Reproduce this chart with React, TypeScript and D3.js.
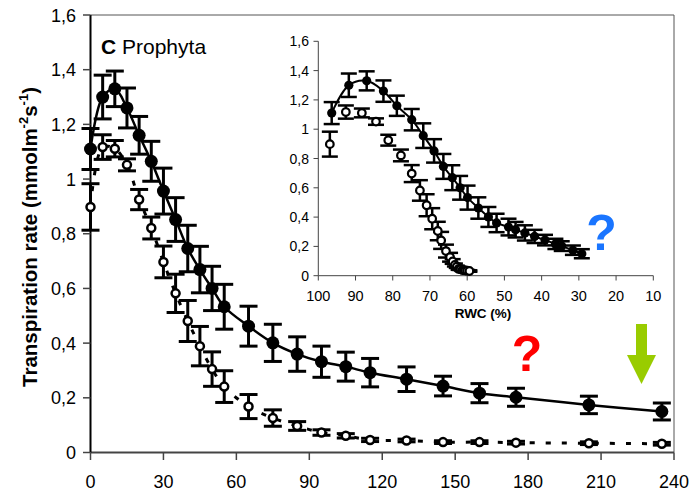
import React from "react";
import * as d3 from "d3";

// ---- data ----
const timeMin = [0, 5, 10, 15, 20, 25, 30, 35, 40, 45, 50, 55, 65, 75, 85, 95, 105, 115, 130, 145, 160, 175, 205, 235];
const filledRate = [1.11, 1.3, 1.33, 1.26, 1.16, 1.065, 0.956, 0.852, 0.746, 0.669, 0.6, 0.533, 0.462, 0.401, 0.36, 0.332, 0.314, 0.292, 0.268, 0.243, 0.217, 0.202, 0.174, 0.15];
const filledErr = [0.075, 0.08, 0.065, 0.073, 0.069, 0.073, 0.084, 0.08, 0.085, 0.085, 0.081, 0.082, 0.073, 0.068, 0.063, 0.057, 0.053, 0.052, 0.045, 0.036, 0.035, 0.033, 0.032, 0.031];
const openRate = [0.898, 1.117, 1.111, 1.052, 0.925, 0.821, 0.697, 0.582, 0.481, 0.389, 0.305, 0.241, 0.168, 0.126, 0.097, 0.073, 0.061, 0.046, 0.044, 0.038, 0.038, 0.036, 0.034, 0.032];
const openErr = [0.085, 0.045, 0.03, 0.022, 0.037, 0.04, 0.058, 0.07, 0.075, 0.072, 0.063, 0.058, 0.044, 0.03, 0.016, 0.01, 0.008, 0.006, 0.005, 0.005, 0.005, 0.005, 0.005, 0.005];
const filledRWC = [96.4, 91.8, 87, 82.5, 78.9, 74.9, 71.8, 68.9, 66.4, 64, 61.9, 59.9, 57, 54.3, 52.1, 48.9, 47, 44.5, 41.9, 39.1, 36.3, 34.6, 31.6, 29.2];
const openRWC = [96.9, 92.6, 88.3, 84.5, 81.2, 77.8, 74.9, 72.7, 70.9, 69.4, 67.9, 67, 65.7, 64.6, 63.9, 63.3, 62.8, 62.3, 61.8, 61.3, 60.9, 60.5, 60, 59.4];
const mainXTicks = [0, 30, 60, 90, 120, 150, 180, 210, 240];
const yTicks = [0, 0.2, 0.4, 0.6, 0.8, 1, 1.2, 1.4, 1.6];
const insetXTicks = [100, 90, 80, 70, 60, 50, 40, 30, 20, 10];
const panelLabel = "Prophyta";

const FONT = "'Liberation Sans', Arial, sans-serif";
const fmt = (v: number) => (Math.round(v * 10) / 10).toString().replace(".", ",");

export default function App() {
  const W = 690, H = 493;
  const x = d3.scaleLinear().domain([0, 240]).range([90.5, 674]);
  const y = d3.scaleLinear().domain([0, 1.6]).range([452.5, 15]);
  const xi = d3.scaleLinear().domain([100, 10]).range([318.3, 653.3]);
  const yi = d3.scaleLinear().domain([0, 1.6]).range([275.7, 41.3]);

  const filledLine = d3.line<number>().x((_, i) => x(timeMin[i])).y((d) => y(d)).curve(d3.curveCatmullRom.alpha(0.5));
  const openLine = d3.line<number>().x((_, i) => x(timeMin[i])).y((d) => y(d)).curve(d3.curveCatmullRom.alpha(0.5));
  const insetFilledLine = d3.line<number>().x((_, i) => xi(filledRWC[i])).y((d) => yi(d)).curve(d3.curveCatmullRom.alpha(0.5));

  const errBars = (xs: number[], vals: number[], errs: number[], sx: any, sy: any, cap: number, sw: number, key: string) =>
    vals.map((v, i) => {
      const cx = sx(xs[i]);
      const t = sy(v + errs[i]);
      const b = sy(v - errs[i]);
      return (
        <g key={key + i} stroke="#000" strokeWidth={sw}>
          <line x1={cx} x2={cx} y1={t} y2={b} />
          <line x1={cx - cap / 2} x2={cx + cap / 2} y1={t} y2={t} />
          <line x1={cx - cap / 2} x2={cx + cap / 2} y1={b} y2={b} />
        </g>
      );
    });

  return (
    <svg width={W} height={H} style={{ position: "absolute", left: 0, top: 0, background: "#fff" }} fontFamily={FONT}>
      <rect x={0} y={0} width={W} height={H} fill="#fff" />
      {/* main frame */}
      <line x1={90.5} x2={674} y1={15} y2={15} stroke="#555" strokeWidth={1} />
      <line x1={674} x2={674} y1={15} y2={452.5} stroke="#555" strokeWidth={1} />
      {/* main axes */}
      <line x1={90.5} x2={674} y1={452.5} y2={452.5} stroke="#444" strokeWidth={2} />
      <line x1={90.5} x2={90.5} y1={15} y2={452.5} stroke="#000" strokeWidth={2} />
      {yTicks.map((t) => (
        <g key={"yt" + t}>
          <line x1={83} x2={90.5} y1={y(t)} y2={y(t)} stroke="#444" strokeWidth={1.5} />
          <text x={76} y={y(t) + 6.5} fontSize={18} textAnchor="end" fill="#000">{fmt(t)}</text>
        </g>
      ))}
      {mainXTicks.map((t) => (
        <g key={"xt" + t}>
          <line x1={x(t)} x2={x(t)} y1={452.5} y2={460} stroke="#444" strokeWidth={1.5} />
          <text x={x(t)} y={488} fontSize={18} textAnchor="middle" fill="#000">{t}</text>
        </g>
      ))}
      <text transform="translate(37,237) rotate(-90)" fontSize={20.5} fontWeight="bold" textAnchor="middle" fill="#000">
        Transpiration rate (mmolm<tspan fontSize={13} dy={-9}>-2</tspan><tspan dy={9}>s</tspan><tspan fontSize={13} dy={-9}>-1</tspan><tspan dy={9}>)</tspan>
      </text>
      <text x={101} y={54} fontSize={21} fill="#000">
        <tspan fontWeight="bold">C</tspan> {panelLabel}
      </text>

      {/* main series */}
      <path d={openLine(openRate) || ""} fill="none" stroke="#000" strokeWidth={3} strokeDasharray="5 11" />
      <path d={filledLine(filledRate) || ""} fill="none" stroke="#000" strokeWidth={2.5} />
      {errBars(timeMin, filledRate, filledErr, x, y, 18, 3, "fe")}
      {errBars(timeMin, openRate, openErr, x, y, 18, 3, "oe")}
      {filledRate.map((v, i) => (
        <circle key={"fc" + i} cx={x(timeMin[i])} cy={y(v)} r={6.5} fill="#000" />
      ))}
      {openRate.map((v, i) => (
        <circle key={"oc" + i} cx={x(timeMin[i])} cy={y(v)} r={4} fill="#fff" stroke="#000" strokeWidth={2.5} />
      ))}

      {/* inset */}
      <line x1={318.3} x2={318.3} y1={41.3} y2={275.7} stroke="#444" strokeWidth={1} />
      <line x1={318.3} x2={653.3} y1={275.7} y2={275.7} stroke="#444" strokeWidth={1} />
      {yTicks.map((t) => (
        <g key={"iyt" + t}>
          <line x1={313.5} x2={318.3} y1={yi(t)} y2={yi(t)} stroke="#444" strokeWidth={1} />
          <text x={309} y={yi(t) + 5} fontSize={14} textAnchor="end" fill="#000">{fmt(t)}</text>
        </g>
      ))}
      {insetXTicks.map((t) => (
        <g key={"ixt" + t}>
          <line x1={xi(t)} x2={xi(t)} y1={275.7} y2={280.5} stroke="#444" strokeWidth={1} />
          <text x={xi(t)} y={301} fontSize={14.5} textAnchor="middle" fill="#000">{t}</text>
        </g>
      ))}
      <text x={483} y={318} fontSize={13.5} fontWeight="bold" textAnchor="middle" fill="#000">RWC (%)</text>
      <path d={insetFilledLine(filledRate) || ""} fill="none" stroke="#000" strokeWidth={2} />
      {errBars(filledRWC, filledRate, filledErr, xi, yi, 16, 2.5, "ife")}
      {errBars(openRWC, openRate, openErr, xi, yi, 16, 2.5, "ioe")}
      {filledRate.map((v, i) => (
        <circle key={"ifc" + i} cx={xi(filledRWC[i])} cy={yi(v)} r={4.6} fill="#000" />
      ))}
      {openRate.map((v, i) => (
        <circle key={"ioc" + i} cx={xi(openRWC[i])} cy={yi(v)} r={3.8} fill="#fff" stroke="#000" strokeWidth={2.2} />
      ))}

      {/* annotations */}
      <text x={601.5} y={250} fontSize={50} fontWeight="bold" textAnchor="middle" fill="#1a75ff">?</text>
      <text x={527} y={371} fontSize={50} fontWeight="bold" textAnchor="middle" fill="#ff0000">?</text>
      <polygon points="636,324 647,324 647,355 656,355 641.5,384 627,355 636,355" fill="#99cc00" />
    </svg>
  );
}
